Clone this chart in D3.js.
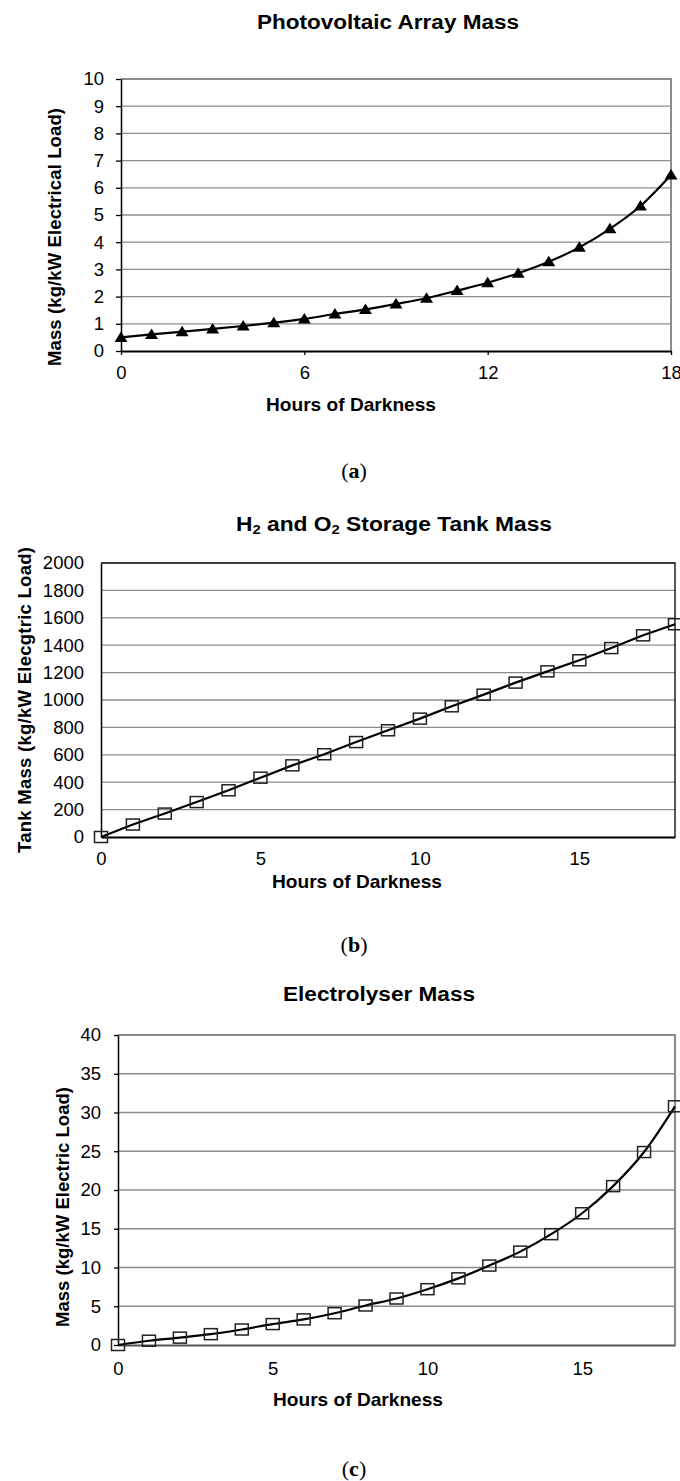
<!DOCTYPE html>
<html>
<head>
<meta charset="utf-8">
<script src="https://cdn.jsdelivr.net/npm/d3@7"></script>
<style>
	body { margin: 0; background: #fff; }
	svg { display: block; }
	text { font-family: "Liberation Sans", Arial, sans-serif; fill: #000; }
	.caption { font-family: "Liberation Serif", "DejaVu Serif", serif; }
</style>
</head>
<body>
<svg id="fig" width="680" height="1481"></svg>
<script>
const HOURS = [0, 1, 2, 3, 4, 5, 6, 7, 8, 9, 10, 11, 12, 13, 14, 15, 16, 17, 18];

const PV_MASS = [0.5, 0.61, 0.71, 0.81, 0.92, 1.04, 1.18, 1.36, 1.53, 1.73, 1.94, 2.22, 2.51, 2.86, 3.28, 3.81, 4.49, 5.33, 6.47];
const TANK_MASS = [0, 91, 171, 255, 341, 433, 523, 604, 693, 779, 864, 954, 1039, 1127, 1209, 1290, 1379, 1472, 1553];
const ELEC_MASS = [0, 0.55, 0.95, 1.4, 2.0, 2.7, 3.3, 4.1, 5.1, 6.0, 7.2, 8.6, 10.25, 12.05, 14.3, 17.0, 20.5, 24.9, 30.8];

const PV_Y_TICKS = [0, 1, 2, 3, 4, 5, 6, 7, 8, 9, 10];
const TANK_Y_TICKS = [0, 200, 400, 600, 800, 1000, 1200, 1400, 1600, 1800, 2000];
const ELEC_Y_TICKS = [0, 5, 10, 15, 20, 25, 30, 35, 40];
const PV_X_TICKS = [0, 6, 12, 18];
const TANK_X_TICKS = [0, 5, 10, 15];
const ELEC_X_TICKS = [0, 5, 10, 15];

const svg = d3.select("#fig");

const CHARTS = [
	{
		title: [{ t: "Photovoltaic Array Mass" }], titleLen: 262,
		titleX: 388, titleY: 29,
		yLabel: "Mass (kg/kW Electrical Load)", yLabelX: 54, yLabelY: 237, yLabelLen: 258,
		xTitleX: 351, xTitleY: 411,
		caption: "a", captionY: 478,
		left: 121, right: 671, top: 79, bottom: 351,
		values: PV_MASS, yTicks: PV_Y_TICKS, xTicks: PV_X_TICKS,
		yTickLen: 5, xTickLen: 4, yPad: 12, xPad: 11,
		frameColor: "#8c8c8c", frameWidth: 2, bottomColor: "#000",
		gridColor: "#8c8c8c",
		marker: "triangle", curve: d3.curveMonotoneX,
	},
	{
		title: [{ t: "H" }, { t: "2", sub: true }, { t: " and O" }, { t: "2", sub: true }, { t: " Storage Tank Mass" }], titleLen: 316,
		titleX: 394, titleY: 531,
		yLabel: "Tank Mass (kg/kW Elecgtric Load)", yLabelX: 24, yLabelY: 700, yLabelLen: 306,
		xTitleX: 357, xTitleY: 888,
		caption: "b", captionY: 952,
		left: 101, right: 675, top: 563, bottom: 837,
		values: TANK_MASS, yTicks: TANK_Y_TICKS, xTicks: TANK_X_TICKS,
		yTickLen: 0, xTickLen: 0, yPad: 17, xPad: 15,
		frameColor: "#000", frameWidth: 1.3, bottomColor: "#000",
		gridColor: "#8c8c8c",
		marker: "square", curve: d3.curveLinear,
	},
	{
		title: [{ t: "Electrolyser Mass" }], titleLen: 192,
		titleX: 379, titleY: 1001,
		yLabel: "Mass (kg/kW Electric Load)", yLabelX: 62, yLabelY: 1207, yLabelLen: 240,
		xTitleX: 358, xTitleY: 1406,
		caption: "c", captionY: 1476,
		left: 118, right: 675, top: 1035, bottom: 1345,
		values: ELEC_MASS, yTicks: ELEC_Y_TICKS, xTicks: ELEC_X_TICKS,
		yTickLen: 4, xTickLen: 0, yPad: 13, xPad: 17,
		frameColor: "#8c8c8c", frameWidth: 2.2, bottomColor: "#555",
		gridColor: "#8c8c8c",
		marker: "square", curve: d3.curveMonotoneX,
	},
];

for (const cfg of CHARTS) drawChart(cfg);

function drawChart(cfg) {
	const g = svg.append("g");

	const x = d3.scaleLinear()
		.domain([0, 18])
		.range([cfg.left, cfg.right]);
	const yMax = cfg.yTicks[cfg.yTicks.length - 1];
	const y = d3.scaleLinear()
		.domain([0, yMax])
		.range([cfg.bottom, cfg.top]);

	// gridlines
	g.append("g")
		.selectAll("line")
		.data(cfg.yTicks.filter(d => d > 0 && d < yMax))
		.join("line")
		.attr("x1", cfg.left)
		.attr("x2", cfg.right)
		.attr("y1", d => y(d))
		.attr("y2", d => y(d))
		.attr("stroke", cfg.gridColor)
		.attr("stroke-width", 1.3);

	// top + right frame
	g.append("path")
		.attr("d", `M${cfg.left},${cfg.top}H${cfg.right}V${cfg.bottom}`)
		.attr("fill", "none")
		.attr("stroke", cfg.frameColor)
		.attr("stroke-width", cfg.frameWidth);

	// axes
	const yAxis = g.append("g")
		.attr("transform", `translate(${cfg.left},0)`)
		.call(d3.axisLeft(y)
			.tickValues(cfg.yTicks)
			.tickFormat(d3.format("d"))
			.tickSize(cfg.yTickLen)
			.tickSizeOuter(0)
			.tickPadding(cfg.yPad)
		);
	const xAxis = g.append("g")
		.attr("transform", `translate(0,${cfg.bottom})`)
		.call(d3.axisBottom(x)
			.tickValues(cfg.xTicks)
			.tickFormat(d3.format("d"))
			.tickSize(cfg.xTickLen)
			.tickSizeOuter(0)
			.tickPadding(cfg.xPad)
		);
	for (const ax of [yAxis, xAxis]) {
		ax.selectAll("text").attr("font-size", 18.5);
		ax.selectAll(".tick line").attr("stroke", "#000").attr("stroke-width", 1.3);
	}
	yAxis.select(".domain").attr("stroke", "#000").attr("stroke-width", 1.5);
	xAxis.select(".domain").attr("stroke", cfg.bottomColor).attr("stroke-width", 2);

	// series line
	const points = HOURS.map((h, i) => ({ h: h, v: cfg.values[i] }));
	const line = d3.line()
		.x(d => x(d.h))
		.y(d => y(d.v))
		.curve(cfg.curve);
	g.append("path")
		.datum(points)
		.attr("fill", "none")
		.attr("stroke", "#000")
		.attr("stroke-width", 2.2)
		.attr("d", line);

	// markers
	if (cfg.marker == "triangle") {
		g.append("g")
			.selectAll("path")
			.data(points)
			.join("path")
			.attr("transform", d => `translate(${x(d.h)},${y(d.v)})`)
			.attr("d", "M0,-6L6.5,4.5L-6.5,4.5Z")
			.attr("fill", "#000");
	} else {
		g.append("g")
			.selectAll("rect")
			.data(points)
			.join("rect")
			.attr("x", d => x(d.h) - 6.5)
			.attr("y", d => y(d.v) - 5.5)
			.attr("width", 13)
			.attr("height", 11)
			.attr("fill", "none")
			.attr("stroke", "#222")
			.attr("stroke-width", 1.5);
	}

	// title
	const title = g.append("text")
		.attr("x", cfg.titleX)
		.attr("y", cfg.titleY)
		.attr("text-anchor", "middle")
		.attr("font-size", 20)
		.attr("font-weight", "bold")
		.attr("textLength", cfg.titleLen)
		.attr("lengthAdjust", "spacingAndGlyphs");
	for (const part of cfg.title) {
		const ts = title.append("tspan").text(part.t);
		if (part.sub) ts.attr("font-size", 13).attr("baseline-shift", "-25%");
	}

	// axis titles
	g.append("text")
		.attr("x", cfg.xTitleX)
		.attr("y", cfg.xTitleY)
		.attr("text-anchor", "middle")
		.attr("font-size", 18.5)
		.attr("font-weight", "bold")
		.attr("textLength", 170)
		.attr("lengthAdjust", "spacingAndGlyphs")
		.text("Hours of Darkness");

	g.append("text")
		.attr("transform", `translate(${cfg.yLabelX},${cfg.yLabelY}) rotate(-90)`)
		.attr("text-anchor", "middle")
		.attr("dy", "0.36em")
		.attr("font-size", 18.5)
		.attr("font-weight", "bold")
		.attr("textLength", cfg.yLabelLen)
		.attr("lengthAdjust", "spacing")
		.text(cfg.yLabel);

	// caption
	const cap = g.append("text")
		.attr("class", "caption")
		.attr("x", 354)
		.attr("y", cfg.captionY)
		.attr("text-anchor", "middle")
		.attr("font-size", 22);
	cap.append("tspan").text("(");
	cap.append("tspan").attr("font-weight", "bold").text(cfg.caption);
	cap.append("tspan").text(")");
}
</script>
</body>
</html>
